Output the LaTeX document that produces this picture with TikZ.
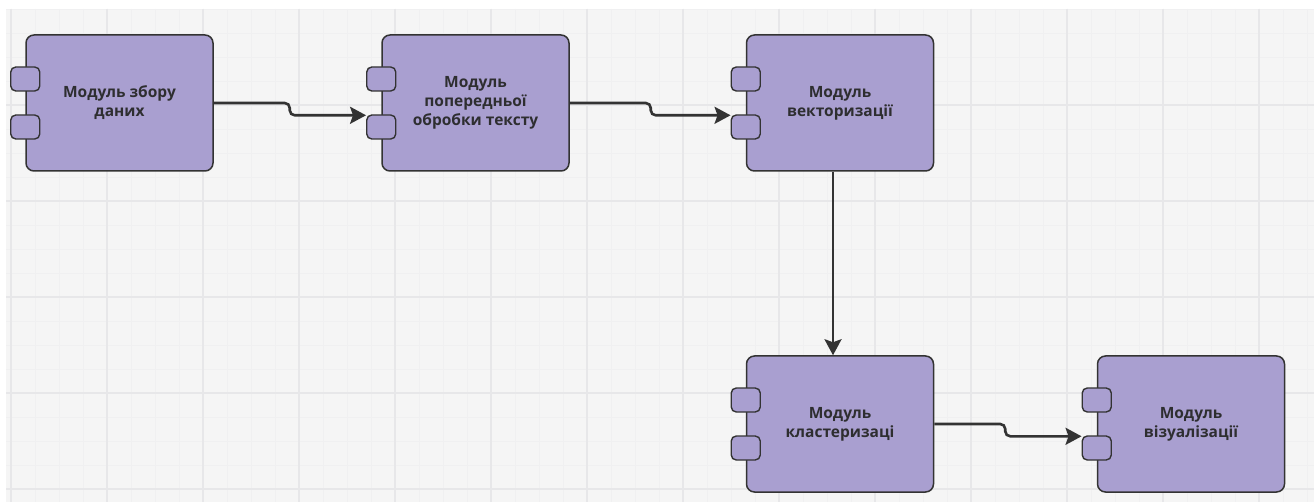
\documentclass[tikz,border=0pt]{standalone}
\usepackage{fontspec}
\setmainfont{Open Sans}
\usetikzlibrary{arrows.meta,calc}
\definecolor{bgc}{HTML}{F5F5F5}
\definecolor{majc}{HTML}{E7E7E9}
\definecolor{minc}{HTML}{F0F0F1}
\definecolor{boxc}{HTML}{A99FD0}
\definecolor{linec}{HTML}{333333}
\definecolor{txtc}{HTML}{2E2E30}
\tikzset{
  modbox/.style={draw=linec, line width=1.5pt, fill=boxc, rounded corners=8pt,
    minimum width=187pt, minimum height=136pt, inner sep=0pt,
    align=center, text=txtc, font=\fontsize{15.5}{19}\selectfont\bfseries},
  port/.style={draw=linec, line width=1.4pt, fill=boxc, rounded corners=5pt,
    minimum width=29pt, minimum height=24pt, inner sep=0pt},
  arr/.style={draw=linec, line width=2.6pt, rounded corners=5pt,
    -{Stealth[length=16pt,width=17pt,inset=3pt]}},
  minorline/.style={draw=minc, line width=0.8pt},
  majorline/.style={draw=majc, line width=1.2pt}
}
\begin{document}
\begin{tikzpicture}[x=1pt,y=-1pt]
\useasboundingbox (0,0) rectangle (1314,502);
\fill[white] (0,0) rectangle (1314,502);
\fill[bgc] (6,9) rectangle (1314,502);
% minor grid
\foreach \gx in {11,35,...,1314} \draw[minorline] (\gx,9) -- (\gx,502);
\foreach \gy in {9,33,...,502} \draw[minorline] (6,\gy) -- (1314,\gy);
% major grid
\foreach \gx in {11,107,...,1314} \draw[majorline] (\gx,9) -- (\gx,502);
\foreach \gy in {105,201,...,502} \draw[majorline] (6,\gy) -- (1314,\gy);

% boxes
\node[modbox] (b1) at (119.5,103) {Модуль збору\\даних};
\node[modbox] (b2) at (475.5,103) {Модуль\\попередньої\\обробки тексту};
\node[modbox] (b3) at (840,103) {Модуль\\векторизації};
\node[modbox] (b4) at (840,424) {Модуль\\кластеризаці};
\node[modbox] (b5) at (1191,424) {Модуль\\візуалізації};

% ports (p1 upper, p2 lower)
\foreach \b in {b1,b2,b3,b4,b5}{
  \node[port] (\b p1) at ($(\b.west)+(0,-24)$) {};
  \node[port] (\b p2) at ($(\b.west)+(0,24)$) {};
}

% connectors
\draw[arr] (b1.east) -- ($(b1.east)+(76,0)$) |- ([yshift=-1pt]b2p2.north west);
\draw[arr] (b2.east) -- ($(b2.east)+(81,0)$) |- ([yshift=-1pt]b3p2.north west);
\draw[arr] ([xshift=-7pt]b3.south) -- ([xshift=-7pt]b4.north);
\draw[arr] (b4.east) -- ($(b4.east)+(71,0)$) |- ([yshift=-1pt]b5p2.north west);
\end{tikzpicture}
\end{document}
